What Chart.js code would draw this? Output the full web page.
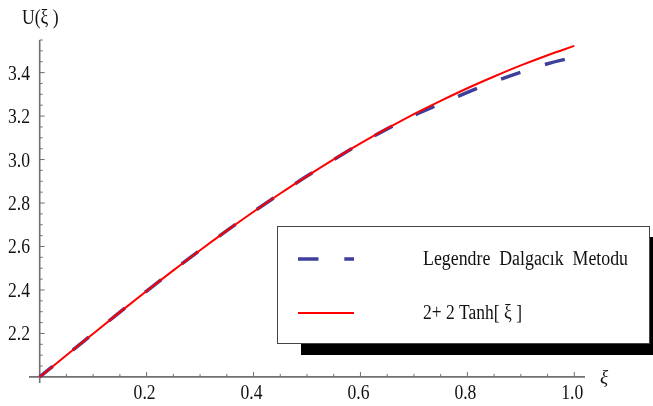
<!DOCTYPE html>
<html>
<head>
<meta charset="utf-8">
<script src="https://cdn.jsdelivr.net/npm/chart.js@4/dist/chart.umd.min.js"></script>
<style>
html,body{margin:0;padding:0;background:#fff;}
#wrap{width:653px;height:406px;}
</style>
</head>
<body>
<div id="wrap"><canvas id="c" width="653" height="406"></canvas></div>
<script>
// ---- data ----
const xi = [0, 0.05, 0.10, 0.15, 0.20, 0.25, 0.30, 0.35, 0.40, 0.45, 0.50,
            0.55, 0.60, 0.65, 0.70, 0.75, 0.80, 0.85, 0.90, 0.95, 1.00];
const legendreWavelet = [2.000, 2.100, 2.199, 2.298, 2.395, 2.490, 2.583, 2.673, 2.760, 2.843, 2.924,
                         3.000, 3.073, 3.141, 3.203, 3.257, 3.309, 3.358, 3.402, 3.441, 3.471];
const exactTanh = [2.000, 2.100, 2.199, 2.298, 2.395, 2.490, 2.583, 2.673, 2.760, 2.844, 2.924,
                   3.001, 3.074, 3.143, 3.209, 3.270, 3.328, 3.382, 3.433, 3.480, 3.523];
const xTickValues = [0.2, 0.4, 0.6, 0.8, 1.0];
const xTickLabels = ['0.2', '0.4', '0.6', '0.8', '1.0'];
const yTickValues = [2.2, 2.4, 2.6, 2.8, 3.0, 3.2, 3.4];
const yTickLabels = ['2.2', '2.4', '2.6', '2.8', '3.0', '3.2', '3.4'];
const seriesNames = ['Legendre  Dalgacık  Metodu', '2+ 2 Tanh[ ξ ]'];
const axisTitleY = 'U(ξ )';
const axisTitleX = 'ξ';

const BLUE = 'rgb(62,62,155)';
const RED = 'rgb(255,0,0)';
const DASH = [20.5, 25.8];
const SERIF = '"Liberation Serif", "DejaVu Serif", serif';

function condensedText(ctx, str, x, y, align, sx, font) {
  ctx.save();
  ctx.font = font;
  ctx.translate(x, y);
  ctx.scale(sx, 1);
  ctx.textAlign = align;
  ctx.textBaseline = 'alphabetic';
  ctx.fillText(str, 0, 0);
  ctx.restore();
}
function fitText(ctx, str, x, y, width, font) {
  ctx.save();
  ctx.font = font;
  const w = ctx.measureText(str).width;
  ctx.translate(x, y);
  ctx.scale(width / w, 1);
  ctx.textAlign = 'left';
  ctx.textBaseline = 'alphabetic';
  ctx.fillText(str, 0, 0);
  ctx.restore();
}
function seg(ctx, x1, y1, x2, y2) {
  ctx.beginPath(); ctx.moveTo(x1, y1); ctx.lineTo(x2, y2); ctx.stroke();
}

const axesPlugin = {
  id: 'mmaAxes',
  beforeDatasetsDraw(chart) {
    const ctx = chart.ctx;
    const xs = chart.scales.x, ys = chart.scales.y;
    const x0 = xs.getPixelForValue(0), y0 = ys.getPixelForValue(2);
    ctx.save();
    ctx.strokeStyle = '#707070';
    ctx.lineWidth = 1.6;
    seg(ctx, xs.left, y0, xs.right, y0);
    seg(ctx, x0, ys.top, x0, ys.bottom);
    ctx.lineWidth = 1;
    // x ticks (inside, upward), every 0.05
    for (let i = 1; i * 0.05 <= xs.max + 1e-9; i++) {
      const v = Math.round(i * 5) / 100;
      const major = xTickValues.some(t => Math.abs(t - v) < 1e-9);
      const px = xs.getPixelForValue(v);
      seg(ctx, px, y0, px, y0 - (major ? 5 : 3));
    }
    // y ticks (inside, rightward), every 0.05
    for (let i = 1; 2 + i * 0.05 <= ys.max + 1e-9; i++) {
      const v = Math.round((2 + i * 0.05) * 100) / 100;
      const major = yTickValues.some(t => Math.abs(t - v) < 1e-9);
      const py = ys.getPixelForValue(v);
      seg(ctx, x0, py, x0 + (major ? 5 : 3), py);
    }
    ctx.fillStyle = '#111';
    const tickFont = '20px ' + SERIF;
    xTickValues.forEach((v, i) => {
      condensedText(ctx, xTickLabels[i], xs.getPixelForValue(v) - 2, 399, 'center', 0.88, tickFont);
    });
    yTickValues.forEach((v, i) => {
      condensedText(ctx, yTickLabels[i], 30, ys.getPixelForValue(v) + 7, 'right', 0.88, tickFont);
    });
    condensedText(ctx, axisTitleY, 22, 24, 'left', 0.88, '20px ' + SERIF);
    condensedText(ctx, axisTitleX, 600, 383, 'left', 1, 'italic 19px ' + SERIF);
    ctx.restore();
  },
  afterDraw(chart) {
    const ctx = chart.ctx;
    ctx.save();
    // shadow
    ctx.fillStyle = '#000';
    ctx.fillRect(301, 237, 352, 118);
    // box
    ctx.fillStyle = '#fff';
    ctx.fillRect(277, 226, 373, 118);
    ctx.strokeStyle = '#444';
    ctx.lineWidth = 1;
    ctx.strokeRect(277.5, 226.5, 372, 117);
    // samples
    ctx.lineCap = 'butt';
    ctx.strokeStyle = BLUE; ctx.lineWidth = 3.5; ctx.setLineDash(DASH);
    seg(ctx, 298, 259, 354, 259);
    ctx.setLineDash([]);
    ctx.strokeStyle = RED; ctx.lineWidth = 2;
    seg(ctx, 298, 313, 354, 313);
    ctx.fillStyle = '#111';
    fitText(ctx, seriesNames[0], 423, 265, 205, '20px ' + SERIF);
    fitText(ctx, seriesNames[1], 423, 319, 99, '20px ' + SERIF);
    ctx.restore();
  }
};

new Chart(document.getElementById('c'), {
  type: 'line',
  data: {
    datasets: [
      {
        label: seriesNames[0],
        data: xi.map((x, i) => ({ x, y: legendreWavelet[i] })),
        borderColor: BLUE, borderWidth: 3.5, borderDash: DASH, borderDashOffset: 3.7,
        borderCapStyle: 'butt', pointRadius: 0, fill: false,
        cubicInterpolationMode: 'monotone', order: 2
      },
      {
        label: seriesNames[1],
        data: xi.map((x, i) => ({ x, y: exactTanh[i] })),
        borderColor: RED, borderWidth: 2,
        pointRadius: 0, fill: false,
        cubicInterpolationMode: 'monotone', order: 1
      }
    ]
  },
  options: {
    responsive: false,
    animation: false,
    layout: { padding: { left: 29, right: 68, top: 40, bottom: 23 } },
    plugins: { legend: { display: false }, tooltip: { enabled: false } },
    scales: {
      x: { type: 'linear', min: -0.02, max: 1.02, display: false },
      y: { type: 'linear', min: 1.972, max: 3.55, display: false }
    }
  },
  plugins: [axesPlugin]
});
</script>
</body>
</html>
